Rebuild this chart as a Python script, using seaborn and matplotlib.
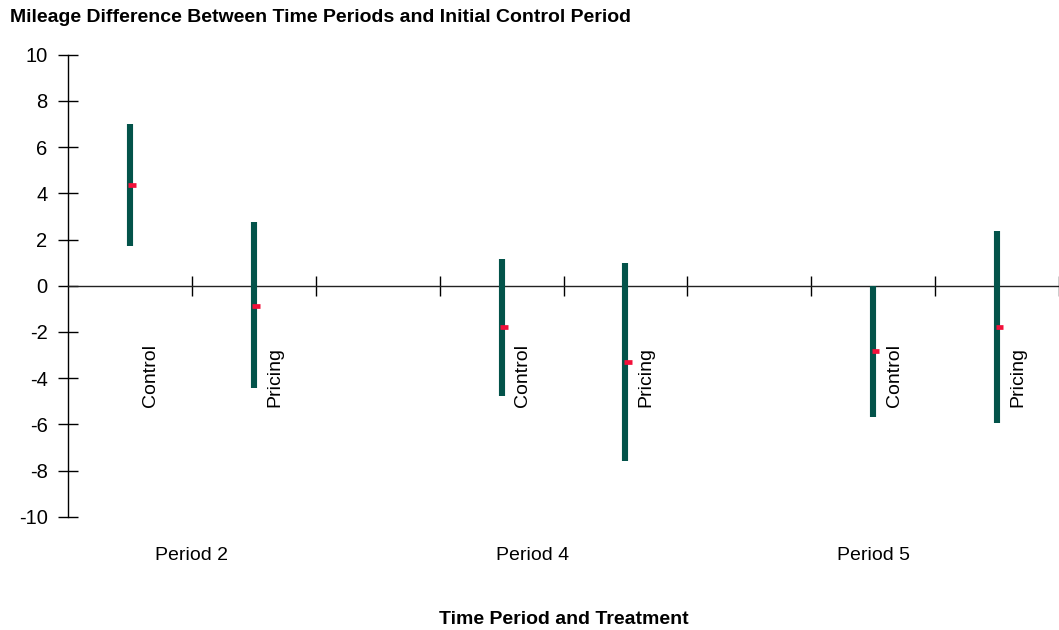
import matplotlib
matplotlib.use("Agg")
import matplotlib.pyplot as plt
import matplotlib.transforms as mtransforms
import numpy as np
import pandas as pd
import seaborn as sns

# Confidence intervals of the mileage difference for each period / treatment
periods = ["Period 2", "Period 2", "Period 4", "Period 4", "Period 5", "Period 5"]
treatments = ["Control", "Pricing", "Control", "Pricing", "Control", "Pricing"]
slot_index = [0, 1, 3, 4, 6, 7]
lower = [1.73, -4.44, -4.76, -7.58, -5.68, -5.96]
upper = [7.00, 2.74, 1.16, 0.97, 0.00, 2.37]
means = [4.37, -0.87, -1.80, -3.32, -2.83, -1.79]

period_labels = ["Period 2", "Period 4", "Period 5"]
period_label_x = [0.5, 3.25, 6.0]
y_ticks = list(range(-10, 11, 2))

df = pd.DataFrame({
    "period": periods,
    "treatment": treatments,
    "slot": slot_index,
    "lower": lower,
    "upper": upper,
    "mean": means,
})

sns.set_theme(style="white")
plt.rcParams["font.family"] = ["Liberation Sans Narrow", "Liberation Sans", "DejaVu Sans"]
plt.rcParams["text.color"] = "black"
plt.rcParams["xtick.color"] = "black"
plt.rcParams["ytick.color"] = "black"

fig = plt.figure(figsize=(10.59, 6.30), dpi=100)
ax = fig.add_axes([68 / 1059, 113.3 / 630, 1 - 68 / 1059, 462 / 630])

bar_color = "#03534a"
mean_color = "#f2103a"

ax.vlines(df["slot"], df["lower"], df["upper"], color=bar_color, lw=4.4, zorder=3)
ax.hlines(df["mean"], df["slot"] - 0.012, df["slot"] + 0.05, color=mean_color, lw=3.4, zorder=4)

# rotated treatment labels beside each interval
for _, r in df.iterrows():
    ax.text(r["slot"] + 0.1, -5.25, r["treatment"], rotation=90, rotation_mode="anchor",
            ha="left", va="top", fontsize=14, color="black")

ax.set_xlim(-0.5, 7.5)
ax.set_ylim(-10, 10)

sns.despine(ax=ax, top=True, right=True)
ax.spines["bottom"].set_position(("data", 0))
for s in ("left", "bottom"):
    ax.spines[s].set_color("black")
    ax.spines[s].set_linewidth(1.0)
ax.spines["bottom"].set_color("#222222")

ax.set_yticks(y_ticks)
ax.set_yticklabels([str(v) for v in y_ticks])
ax.set_xticks(np.arange(0.5, 8.0, 1.0))
ax.set_xticklabels([])
ax.tick_params(axis="y", direction="inout", length=14.5, width=1.0, color="black",
               labelsize=14.5, labelcolor="black", pad=7.5, left=True)
ax.tick_params(axis="x", direction="inout", length=14.5, width=1.0, color="black",
               bottom=True)

trans = mtransforms.blended_transform_factory(ax.transData, ax.transAxes)
for lab, xpos in zip(period_labels, period_label_x):
    ax.text(xpos, -0.085, lab, transform=trans, ha="center", va="center", fontsize=14)

fig.text(10 / 1059, 1 - 18 / 630, "Mileage Difference Between Time Periods and Initial Control Period",
         ha="left", va="center", fontsize=14, fontweight="bold")
fig.text(564 / 1059, 1 - 619 / 630, "Time Period and Treatment",
         ha="center", va="center", fontsize=14, fontweight="bold")

fig.savefig("out.png", dpi=100)
